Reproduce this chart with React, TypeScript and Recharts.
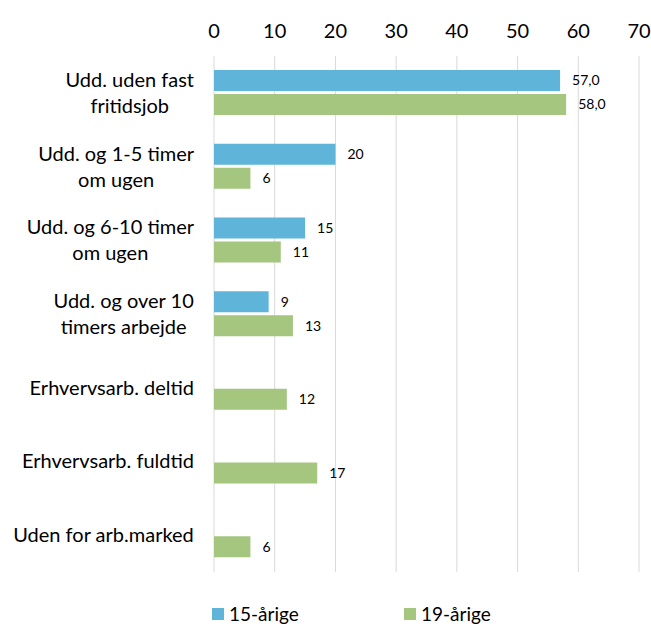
import React from 'react';
import { BarChart, Bar, XAxis, YAxis, CartesianGrid, Legend, LabelList } from 'recharts';

const categories = [
  'Udd. uden fast\nfritidsjob',
  'Udd. og 1-5 timer\nom ugen',
  'Udd. og 6-10 timer\nom ugen',
  'Udd. og over 10\ntimers arbejde',
  'Erhvervsarb. deltid',
  'Erhvervsarb. fuldtid',
  'Uden for arb.marked',
];
const age15 = [57, 20, 15, 9, null, null, null];
const age19 = [58, 6, 11, 13, 12, 17, 6];
const age15Labels = ['57,0', '20', '15', '9', null, null, null];
const age19Labels = ['58,0', '6', '11', '13', '12', '17', '6'];
const xTicks = [0, 10, 20, 30, 40, 50, 60, 70];

const BLUE = '#5EB4D9';
const GREEN = '#A5C67F';
const FONT = 'Lato, "Open Sans", sans-serif';
const LABEL_SIZE = 20;

const data = categories.map((name, i) => ({
  name,
  a15: age15[i],
  a19: age19[i],
  l15: age15Labels[i],
  l19: age19Labels[i],
}));

let ctx: CanvasRenderingContext2D | null = null;
const measure = (s: string) => {
  if (!ctx) ctx = document.createElement('canvas').getContext('2d');
  if (!ctx) return s.length * 10;
  ctx.font = `${LABEL_SIZE}px ${FONT}`;
  return ctx.measureText(s).width;
};

const CategoryTick = (props: any) => {
  const { x, y, payload } = props;
  const lines: string[] = String(payload.value).split('\n');
  const w = Math.max(...lines.map(measure));
  const cx = x - w / 2;
  const lh = 26;
  const y0 = y - ((lines.length - 1) * lh) / 2;
  return (
    <g>
      {lines.map((ln, i) => (
        <text key={i} x={cx} y={y0 + i * lh} dy="0.35em" textAnchor="middle" fontSize={LABEL_SIZE} fill="#000" fontFamily={FONT}>
          {ln}
        </text>
      ))}
    </g>
  );
};

const LegendBox = () => (
  <div style={{ height: 54, position: 'relative', fontFamily: FONT, fontSize: 19, color: '#000' }}>
    {[
      { label: '15-årige', color: BLUE, left: 212 },
      { label: '19-årige', color: GREEN, left: 404 },
    ].map((it) => (
      <div key={it.label} style={{ position: 'absolute', left: it.left, bottom: 1, display: 'flex', alignItems: 'center', lineHeight: '22px' }}>
        <span style={{ width: 12, height: 12, background: it.color, marginRight: 5, display: 'inline-block' }} />
        <span>{it.label}</span>
      </div>
    ))}
  </div>
);

export default function App() {
  return (
    <div style={{ position: 'absolute', left: 0, top: 0, background: '#fff' }}>
      <BarChart
        width={651}
        height={626}
        data={data}
        layout="vertical"
        margin={{ top: 0, right: 12, bottom: 0, left: 0 }}
        barSize={21}
        barGap={3}
      >
        <CartesianGrid horizontal={false} stroke="#D9D9D9" />
        <XAxis
          type="number"
          orientation="top"
          domain={[0, 70]}
          ticks={xTicks}
          height={56}
          axisLine={false}
          tickLine={false}
          tickSize={0}
          tickMargin={18}
          tick={{ fontSize: 20, fill: '#000', fontFamily: FONT }}
        />
        <YAxis
          type="category"
          dataKey="name"
          width={214}
          axisLine={false}
          tickLine={false}
          tickSize={0}
          tickMargin={20}
          tick={<CategoryTick />}
        />
        <Legend verticalAlign="bottom" content={<LegendBox />} />
        <Bar dataKey="a15" name="15-årige" fill={BLUE} isAnimationActive={false}>
          <LabelList dataKey="l15" position="right" offset={12} fontSize={14} fill="#000" fontFamily={FONT} />
        </Bar>
        <Bar dataKey="a19" name="19-årige" fill={GREEN} isAnimationActive={false}>
          <LabelList dataKey="l19" position="right" offset={12} fontSize={14} fill="#000" fontFamily={FONT} />
        </Bar>
      </BarChart>
    </div>
  );
}
